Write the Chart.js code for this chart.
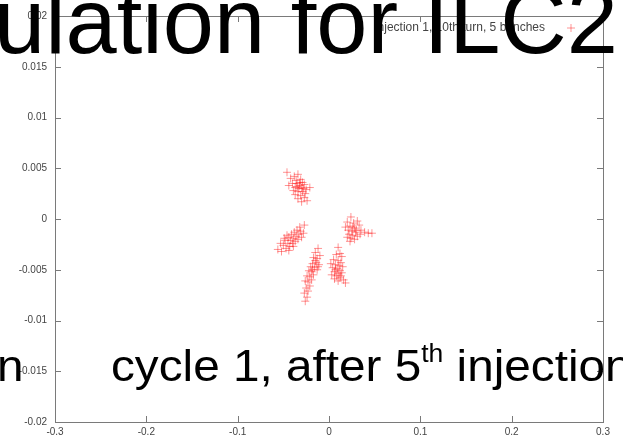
<!DOCTYPE html>
<html lang="en">
<head>
  <meta charset="utf-8"/>
  <title>cycle 1, after 5th injection</title>
  <script src="https://cdn.jsdelivr.net/npm/chart.js@4.4.1/dist/chart.umd.min.js"></script>
  <style>
    body { margin: 0; background: #fff; overflow: hidden; }
    #wrap { position: relative; width: 623px; height: 441px; }
    #plot { position: absolute; left: 0; top: 0; }
    .slide {
      position: absolute; white-space: nowrap; color: #000;
      font-family: "Liberation Sans", Arial, sans-serif; line-height: 1;
      transform-origin: left top;
    }
    #title { left: -6px; top: -25px; font-size: 92px; }
    #caption { left: 111px; top: 343px; font-size: 45px; transform: scaleX(1.06); }
    #capLeft { left: -3px; top: 343px; font-size: 45px; transform: scaleX(1.06); }
    sup { font-size: 25px; vertical-align: baseline; position: relative; top: -19px; }
  </style>
</head>
<body>
<div id="wrap">
  <canvas id="plot" width="623" height="441"></canvas>
  <div class="slide" id="title">ulation for ILC2</div>
  <div class="slide" id="capLeft">n</div>
  <div class="slide" id="caption">cycle 1, after 5<sup>th</sup> injection</div>
</div>
<script>
  // five bunches, [x, y]
  var bunch1 = [[-0.046,0.0046],[-0.042,0.0040],[-0.038,0.0042],[-0.034,0.0044],[-0.036,0.0038],[-0.031,0.0039],
    [-0.040,0.0035],[-0.035,0.0035],[-0.032,0.0033],[-0.029,0.0036],[-0.037,0.0031],[-0.033,0.0030],[-0.030,0.0031],
    [-0.027,0.0034],[-0.034,0.0027],[-0.029,0.0027],[-0.025,0.0029],[-0.021,0.0031],[-0.037,0.0024],[-0.031,0.0023],
    [-0.027,0.0021],[-0.034,0.0020],[-0.024,0.0018],[-0.030,0.0017],[-0.039,0.0028],[-0.028,0.0030],[-0.044,0.0033],
    [-0.032,0.0036],[-0.035,0.0032],[-0.026,0.0025]];
  var bunch2 = [[-0.056,-0.0030],[-0.052,-0.0032],[-0.050,-0.0026],[-0.048,-0.0021],[-0.047,-0.0029],[-0.045,-0.0024],
    [-0.044,-0.0018],[-0.043,-0.0027],[-0.042,-0.0021],[-0.041,-0.0015],[-0.040,-0.0024],[-0.039,-0.0019],[-0.038,-0.0013],
    [-0.037,-0.0022],[-0.036,-0.0017],[-0.035,-0.0011],[-0.034,-0.0020],[-0.033,-0.0015],[-0.031,-0.0012],[-0.030,-0.0018],
    [-0.028,-0.0014],[-0.027,-0.0006],[-0.046,-0.0016],[-0.049,-0.0019],[-0.044,-0.0031],[-0.039,-0.0027],[-0.032,-0.0008],
    [-0.053,-0.0024]];
  var bunch3 = [[-0.012,-0.0029],[-0.015,-0.0033],[-0.010,-0.0036],[-0.013,-0.0039],[-0.017,-0.0038],[-0.014,-0.0043],
    [-0.011,-0.0045],[-0.018,-0.0044],[-0.016,-0.0048],[-0.020,-0.0047],[-0.013,-0.0050],[-0.019,-0.0052],[-0.022,-0.0051],
    [-0.017,-0.0055],[-0.021,-0.0057],[-0.024,-0.0056],[-0.019,-0.0060],[-0.023,-0.0062],[-0.026,-0.0061],[-0.021,-0.0066],
    [-0.025,-0.0068],[-0.023,-0.0071],[-0.027,-0.0073],[-0.024,-0.0077],[-0.026,-0.0081],[-0.015,-0.0041],[-0.012,-0.0047],
    [-0.018,-0.0050]];
  var bunch4 = [[0.010,-0.0028],[0.012,-0.0034],[0.008,-0.0035],[0.014,-0.0037],[0.005,-0.0040],[0.010,-0.0041],
    [0.013,-0.0043],[0.002,-0.0044],[0.007,-0.0045],[0.011,-0.0046],[0.015,-0.0047],[0.004,-0.0048],[0.009,-0.0049],
    [0.012,-0.0051],[0.006,-0.0052],[0.010,-0.0054],[0.014,-0.0053],[0.003,-0.0055],[0.008,-0.0056],[0.012,-0.0058],
    [0.006,-0.0059],[0.016,-0.0060],[0.010,-0.0061],[0.018,-0.0063],[0.013,-0.0056],[0.007,-0.0050]];
  var bunch5 = [[0.024,0.0002],[0.020,-0.0003],[0.027,-0.0004],[0.031,-0.0002],[0.018,-0.0008],[0.023,-0.0007],
    [0.028,-0.0009],[0.033,-0.0006],[0.021,-0.0011],[0.025,-0.0012],[0.029,-0.0013],[0.035,-0.0011],[0.039,-0.0013],
    [0.043,-0.0014],[0.047,-0.0014],[0.022,-0.0015],[0.026,-0.0016],[0.031,-0.0017],[0.024,-0.0019],[0.028,-0.0020],
    [0.020,-0.0018],[0.034,-0.0015],[0.026,-0.0008],[0.030,-0.0011],[0.023,-0.0022]];

  var seriesLabel = 'injection 1, 10th turn, 5 bunches';
  var xRange = [-0.3, 0.3], xStep = 0.1;
  var yRange = [-0.02, 0.02], yStep = 0.005;

  var points = [];
  [bunch1, bunch2, bunch3, bunch4, bunch5].forEach(function(b) {
    b.forEach(function(p) { points.push({x: p[0], y: p[1]}); });
  });

  var red = 'rgba(255, 20, 20, 0.45)';
  var frame = '#7a7a7a';

  // gnuplot style frame: border, inward ticks on all sides, key inside top right
  var gnuFrame = {
    id: 'gnuFrame',
    afterDraw: function(chart) {
      var ctx = chart.ctx, a = chart.chartArea;
      var xs = chart.scales.x, ys = chart.scales.y;
      ctx.save();
      ctx.strokeStyle = frame;
      ctx.lineWidth = 1;
      ctx.strokeRect(Math.round(a.left) + 0.5, Math.round(a.top) + 0.5,
        Math.round(a.right - a.left), Math.round(a.bottom - a.top));
      ctx.beginPath();
      xs.ticks.forEach(function(t) {
        var px = Math.round(xs.getPixelForValue(t.value)) + 0.5;
        ctx.moveTo(px, a.bottom); ctx.lineTo(px, a.bottom - 6);
        ctx.moveTo(px, a.top); ctx.lineTo(px, a.top + 6);
      });
      ys.ticks.forEach(function(t) {
        var py = Math.round(ys.getPixelForValue(t.value)) + 0.5;
        ctx.moveTo(a.left, py); ctx.lineTo(a.left + 6, py);
        ctx.moveTo(a.right, py); ctx.lineTo(a.right - 6, py);
      });
      ctx.stroke();

      // key
      var label = chart.data.datasets[0].label;
      ctx.font = '12px "Liberation Sans", Arial, sans-serif';
      ctx.fillStyle = '#444';
      ctx.textAlign = 'right';
      ctx.textBaseline = 'middle';
      ctx.fillText(label, a.right - 58, a.top + 12);
      var kx = a.right - 32, ky = a.top + 12;
      ctx.strokeStyle = red;
      ctx.beginPath();
      ctx.moveTo(kx - 4, ky); ctx.lineTo(kx + 4, ky);
      ctx.moveTo(kx, ky - 4); ctx.lineTo(kx, ky + 4);
      ctx.stroke();
      ctx.restore();
    }
  };

  function fmt(v) { return String(parseFloat(v.toFixed(4))); }

  new Chart(document.getElementById('plot'), {
    type: 'scatter',
    data: {
      datasets: [{
        label: seriesLabel,
        data: points,
        pointStyle: 'cross',
        pointRadius: 4,
        pointHoverRadius: 4,
        pointBorderWidth: 1,
        borderColor: red,
        backgroundColor: red
      }]
    },
    options: {
      responsive: false,
      animation: false,
      events: [],
      layout: { padding: { left: 0, right: 20, top: 16, bottom: 0 } },
      plugins: { legend: { display: false }, tooltip: { enabled: false } },
      scales: {
        x: {
          type: 'linear', min: xRange[0], max: xRange[1],
          grid: { display: false, drawTicks: false }, border: { display: false },
          ticks: { stepSize: xStep, padding: 4, color: '#444', maxRotation: 0,
            font: { family: '"Liberation Sans", Arial, sans-serif', size: 10 },
            callback: function(v) { return fmt(v); } },
          afterFit: function(s) { s.height = 19; }
        },
        y: {
          type: 'linear', min: yRange[0], max: yRange[1],
          grid: { display: false, drawTicks: false }, border: { display: false },
          ticks: { stepSize: yStep, padding: 8, color: '#444',
            font: { family: '"Liberation Sans", Arial, sans-serif', size: 10 },
            callback: function(v) { return fmt(v); } },
          afterFit: function(s) { s.width = 55; }
        }
      }
    },
    plugins: [gnuFrame]
  });
</script>
</body>
</html>
